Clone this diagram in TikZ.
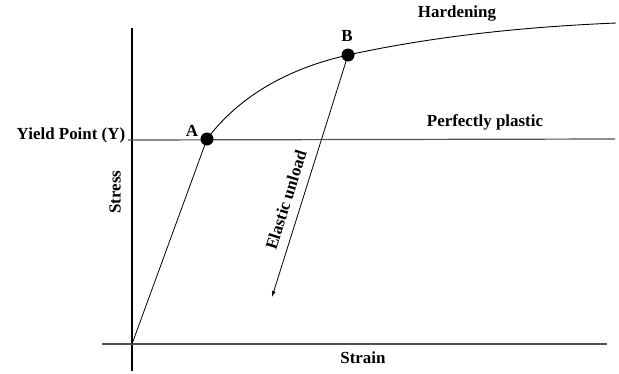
\documentclass[tikz,border=0pt]{standalone}
\usepackage{fontspec}
\setmainfont{Liberation Serif}
\usetikzlibrary{arrows.meta}
\definecolor{axgray}{HTML}{505050}

\begin{document}
\begin{tikzpicture}[x=1bp, y=-1bp, font=\fontsize{17}{20}\selectfont\bfseries,
    dot/.style={circle, fill=black, inner sep=0pt, minimum size=13bp},
    lbl/.style={inner sep=1bp}]
    \useasboundingbox (0,0) rectangle (619,373);
    % axes
    \coordinate (o) at (132,344);
    \coordinate (ytop) at (132,28);
    \coordinate (ybot) at (132,371);
    \coordinate (xl) at (102,344);
    \coordinate (xr) at (607,344);
    \draw[line width=1.1bp] (ybot) -- (ytop);
    \draw[axgray, line width=1.3bp] (xl) -- (xr);
    \node[lbl, rotate=90] (stress) at (115,192) {Stress};
    \node[lbl] (strain) at (363,358) {Strain};
    % yield level
    \node[lbl] (yield) at (71,135) {Yield Point (Y)};
    \coordinate (ystart) at (128,140);
    \coordinate (yend) at (615,139);
    \draw[axgray, line width=1.2bp] (ystart) -- (yend);
    \node[lbl] (plastic) at (485,122) {Perfectly plastic};
    % points A and B
    \node[dot] (A) at (207,139) {};
    \node[dot] (B) at (348,55) {};
    \node[lbl] (Alab) at (192,131) {A};
    \node[lbl] (Blab) at (347,36) {B};
    % loading path
    \coordinate (hend) at (616,23);
    \draw[line width=0.8bp] (o) -- (A.center);
    \draw[line width=0.9bp] (A.center) .. controls (240,95) and (290,68) .. (B.center)
      .. controls (430,37) and (520,27) .. (hend);
    \node[lbl] (hard) at (457,13) {Hardening};
    % unloading
    \coordinate (tip) at (272,297);
    \draw[line width=0.8bp, -{Latex[length=6bp, width=4bp]}] (B.center) -- (tip);
    \node[lbl, rotate=72.6] (unload) at (286,200) {Elastic unload};
\end{tikzpicture}
\end{document}
